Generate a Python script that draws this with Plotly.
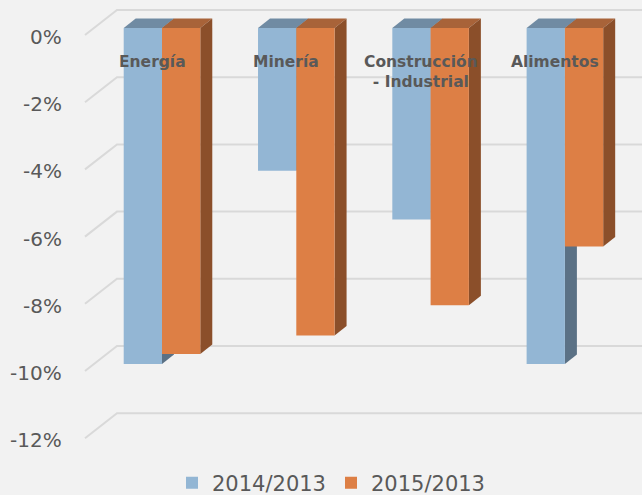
import plotly.graph_objects as go

# ---- data ----
categories = ["Energía", "Minería", "Construcción<br>- Industrial", "Alimentos"]
series_names = ["2014/2013", "2015/2013"]
values_2014 = [-10.0, -4.25, -5.7, -10.0]
values_2015 = [-9.7, -9.15, -8.25, -6.5]
tick_values = [0, -2, -4, -6, -8, -10, -12]
tick_labels = ["0%", "-2%", "-4%", "-6%", "-8%", "-10%", "-12%"]

# ---- styling / geometry ----
W, H = 642, 495
PX_X = 134.3      # pixels per category unit
X0 = 162.0        # pixel of category 0 centre
PX_Y = 33.6       # pixels per percentage point
Y0 = 28.0         # pixel of 0 on the bar front plane

def ux(p):
    return p / PX_X

def uy(p):
    return p / PX_Y

x_range = [ux(-X0), ux(W - X0)]
y_range = [-uy(H - Y0), uy(Y0)]

front_cols = ["#93b6d4", "#dd7f45"]
top_cols = ["#708ba3", "#a86339"]
side_cols = ["#5b7185", "#8b4f2a"]
grid_col = "#d9d9d9"
text_col = "#595959"

bar_w = 0.285
offsets = [-bar_w, 0.0]
DX, DY = ux(12), uy(9.5)

fig = go.Figure()
shapes = []

# gridlines (back wall + floor diagonal)
for k in tick_values:
    yb = k + uy(18)
    yf = k - uy(7)
    xs = ux(85 - X0)
    xb = ux(117 - X0)
    path = f"M {xs},{yf} L {xb},{yb} L {x_range[1]},{yb}"
    shapes.append(dict(type="path", path=path, xref="x", yref="y",
                       line=dict(color=grid_col, width=2), layer="below"))

all_vals = [values_2014, values_2015]
xs_cat = list(range(len(categories)))
for s, vals in enumerate(all_vals):
    for i, v in enumerate(vals):
        x1 = i + offsets[s]
        x2 = x1 + bar_w
        # top face
        top = f"M {x1},0 L {x1+DX},{DY} L {x2+DX},{DY} L {x2},0 Z"
        shapes.append(dict(type="path", path=top, xref="x", yref="y",
                           fillcolor=top_cols[s], line=dict(width=0), layer="below"))
        # right side face
        side = f"M {x2},0 L {x2+DX},{DY} L {x2+DX},{v+DY} L {x2},{v} Z"
        shapes.append(dict(type="path", path=side, xref="x", yref="y",
                           fillcolor=side_cols[s], line=dict(width=0), layer="below"))

for s, vals in enumerate(all_vals):
    fig.add_trace(go.Bar(
        x=xs_cat, y=vals, base=0, width=bar_w, offset=offsets[s],
        name=series_names[s], marker=dict(color=front_cols[s], line=dict(width=0)),
        hoverinfo="skip"))

annotations = []
for k, lab in zip(tick_values, tick_labels):
    annotations.append(dict(x=64 / W, xref="paper", y=k - uy(9), yref="y",
                            text=lab, showarrow=False, xanchor="right", yanchor="middle",
                            font=dict(family="DejaVu Sans", size=20, color=text_col)))
for i, c in enumerate(categories):
    annotations.append(dict(x=i - ux(10), xref="x", y=-uy(22.5), yref="y",
                            text=f"<b>{c}</b>", showarrow=False, xanchor="center", yanchor="top",
                            font=dict(family="DejaVu Sans", size=15.5, color=text_col)))

fig.update_layout(
    width=W, height=H,
    margin=dict(l=0, r=0, t=0, b=0, autoexpand=False),
    paper_bgcolor="#f2f2f2", plot_bgcolor="#f2f2f2",
    barmode="overlay",
    xaxis=dict(range=x_range, visible=False, fixedrange=True),
    yaxis=dict(range=y_range, visible=False, fixedrange=True),
    shapes=shapes,
    annotations=annotations,
    showlegend=True,
    legend=dict(orientation="h", x=0.5 + 10 / W, xanchor="center", y=(H - 483) / H, yanchor="middle",
                entrywidth=114, entrywidthmode="pixels",
                font=dict(family="DejaVu Sans", size=21, color=text_col),
                bgcolor="rgba(0,0,0,0)", itemclick=False, itemdoubleclick=False),
)

fig.write_html("out.html", config={"displayModeBar": False},
               post_script="document.body.style.margin='0';document.body.style.background='#f2f2f2';")
